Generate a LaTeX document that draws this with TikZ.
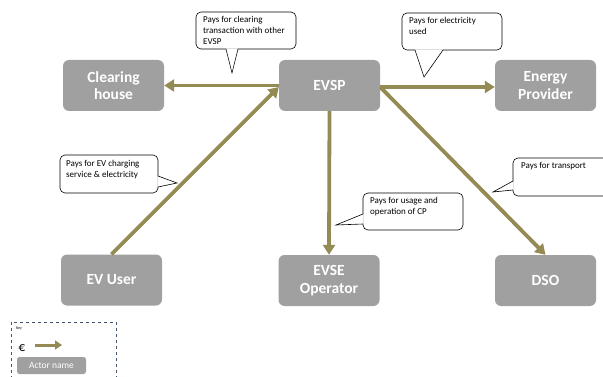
\documentclass[tikz,border=0pt]{standalone}
\usepackage{fontspec}
\setmainfont{Carlito}
\usetikzlibrary{arrows.meta}
\definecolor{actorgray}{HTML}{A0A0A0}
\definecolor{flowolive}{HTML}{948A54}
\definecolor{keyblue}{HTML}{44546A}
\tikzset{
  actor/.style={fill=actorgray, rounded corners=6pt, minimum width=101pt,
    minimum height=51pt, text=white, font=\fontsize{15.5}{17.5}\selectfont\bfseries,
    align=center, inner sep=0pt},
  flow/.style={draw=flowolive, line width=3.8pt,
    -{Triangle[length=10pt,width=12pt]}},
  callout/.style={draw=black, line width=0.6pt, fill=white, rounded corners=5pt},
  calltext/.style={anchor=north west, align=left, inner sep=0pt,
    font=\fontsize{9}{11}\selectfont},
  pointer/.style={draw=black, line width=0.6pt},
}
\begin{document}
\begin{tikzpicture}[x=1pt,y=-1pt]
\useasboundingbox (0,0) rectangle (603,377);

% actors
\node[actor] (ch)   at (113.5,85.5) {Clearing\\house};
\node[actor] (evsp) at (329.5,85.5) {EVSP};
\node[actor] (ep)   at (545.5,85.5) {Energy\\Provider};
\node[actor] (evu)  at (111.5,280)  {EV User};
\node[actor] (evse) at (329,280.5)  {EVSE\\Operator};
\node[actor] (dso)  at (545.5,280.5) {DSO};

% payment flows
\draw[flow] (evsp.west) -- (ch.east);
\draw[flow] ([yshift=-1.5pt]evsp.east) -- ([yshift=-1.5pt]ep.west);
\draw[flow] (evu.north) -- ([yshift=-1.5pt]evsp.west);
\draw[flow] (evsp.south) -- (evse.north);
\draw[flow] ([yshift=-1.5pt]evsp.east) -- (dso.north);

% callout: clearing
\draw[callout] (196,12) rectangle (296,49);
\node[calltext] (c1) at (203,16) {Pays for clearing\\transaction with other\\EVSP};
\coordinate (t1) at (232,73);
\fill[white] (226,48.4) -- (t1) -- (238,48.4) -- cycle;
\draw[pointer] (226,49) -- (t1) -- (238,49);

% callout: electricity
\draw[callout] (402,13) rectangle (502,50);
\node[calltext] (c2) at (409,17) {Pays for electricity\\used};
\coordinate (t2) at (424,77);
\fill[white] (415,49.4) -- (t2) -- (443,49.4) -- cycle;
\draw[pointer] (415,50) -- (t2) -- (443,50);

% callout: charging service
\draw[callout] (60,155) rectangle (158,193);
\node[calltext] (c3) at (66,160) {Pays for EV charging\\service \& electricity};
\coordinate (t3) at (177,183);
\fill[white] (157.4,176) -- (t3) -- (157.4,187) -- cycle;
\draw[pointer] (158,176) -- (t3) -- (158,187);

% callout: transport
\draw[callout] (513,158) rectangle (625,196);
\node[calltext] (c4) at (521,162) {Pays for transport};
\coordinate (t4) at (493,192);
\fill[white] (513.6,181) -- (t4) -- (513.6,190) -- cycle;
\draw[pointer] (513,181) -- (t4) -- (513,190);

% callout: charge point usage
\draw[callout] (363,193) rectangle (463,230);
\node[calltext] (c5) at (370,197) {Pays for usage and\\operation of CP};
\coordinate (t5) at (336,225);
\fill[white] (363.6,214) -- (t5) -- (363.6,224) -- cycle;
\draw[pointer] (363,214) -- (t5) -- (363,224);

% key
\draw[keyblue, dashed, line width=0.5pt] (11,322) rectangle (116,385);
\node[anchor=north west, inner sep=0pt, font=\fontsize{4}{5}\selectfont] (keyt) at (16,327) {Key};
\node[anchor=center, inner sep=0pt, font=\fontsize{13}{15}\selectfont] (euro) at (22,348) {€};
\coordinate (ka) at (35,345);
\coordinate (kb) at (62,345);
\draw[draw=flowolive, line width=3pt, -{Triangle[length=7pt,width=9pt]}] (ka) -- (kb);
\node[fill=actorgray, rounded corners=2.5pt, minimum width=69pt, minimum height=17pt,
  inner sep=0pt, text=white, font=\fontsize{9.5}{10}\selectfont] (keyactor) at (51.5,365.5) {Actor name};
\end{tikzpicture}
\end{document}
